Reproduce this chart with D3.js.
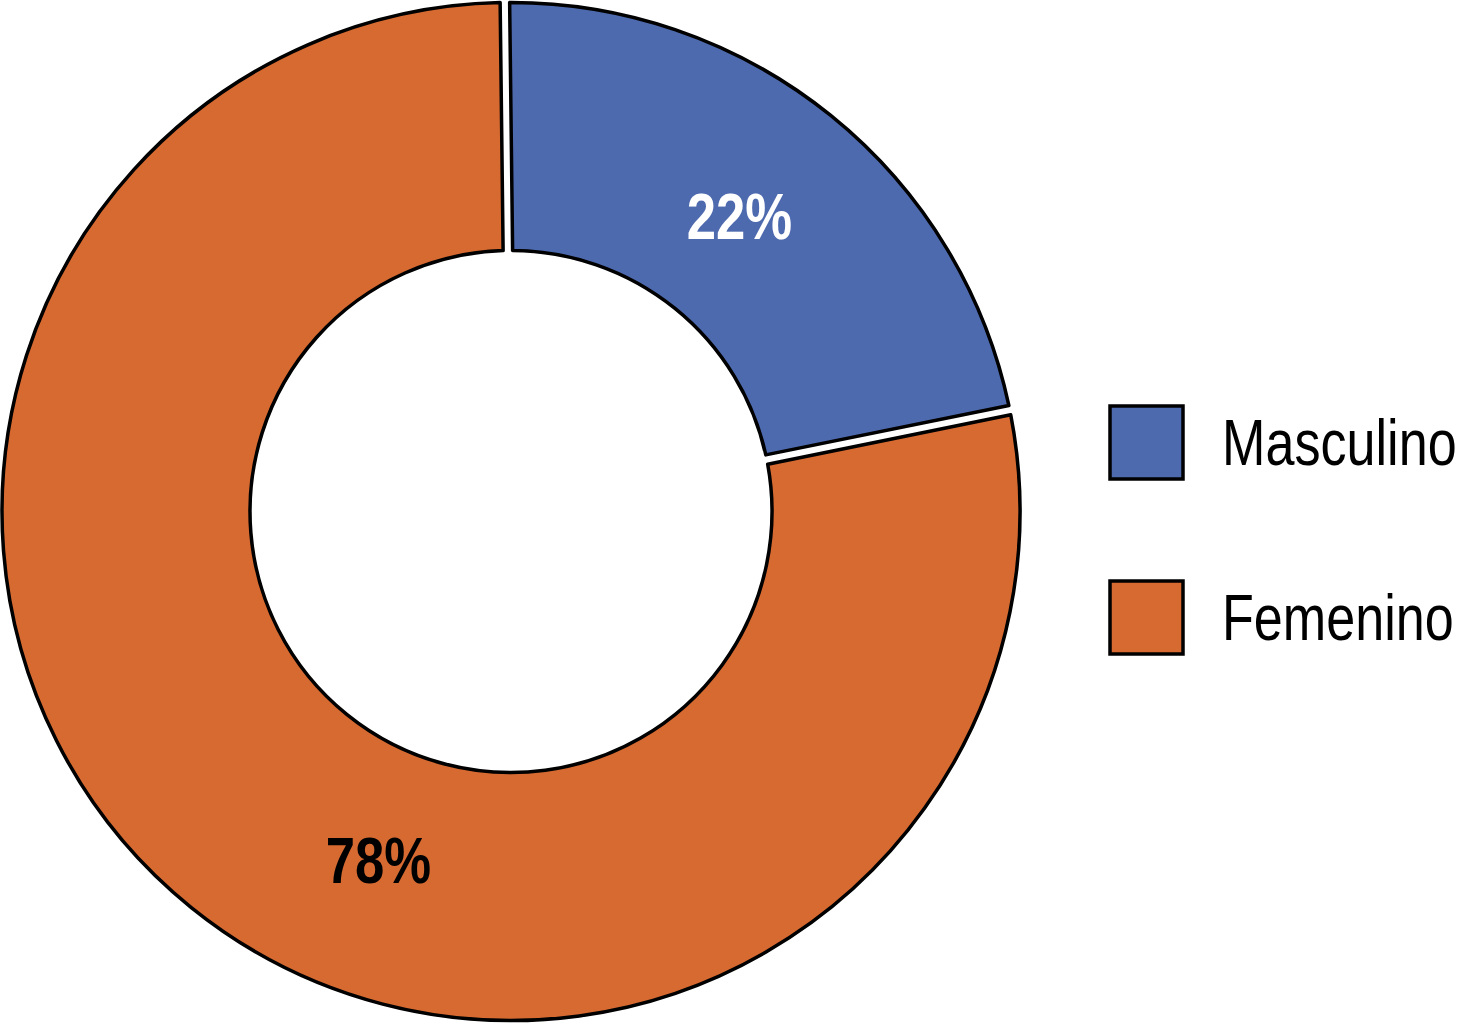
<!DOCTYPE html>
<html>
<head>
<meta charset="utf-8">
<script src="https://cdn.jsdelivr.net/npm/d3@7"></script>
<style>
  html, body { margin: 0; padding: 0; background: #ffffff; }
  svg { display: block; }
</style>
</head>
<body>
<script>
// ---- data ----
const categories = ["Masculino", "Femenino"];
const values = [22, 78];
const labels = ["22%", "78%"];
const colors = ["#4E6AAE", "#D66A31"];
const labelColors = ["#ffffff", "#000000"];

const W = 1466, H = 1024;
const cx = 511, cy = 511.5;
const outerR = 509, innerR = 261;
const FONT = "'Liberation Sans', Arial, sans-serif";
const SQUEEZE = 0.81;

const svg = d3.select("body").append("svg")
  .attr("width", W).attr("height", H);

const g = svg.append("g").attr("transform", `translate(${cx},${cy})`);

const rot = -0.012;
const pie = d3.pie().sort(null).value(d => d.v)
  .startAngle(rot).endAngle(rot + 2 * Math.PI);

const data = categories.map((c, i) => ({ c, v: values[i], i }));
const arcs = pie(data);

const arc = d3.arc()
  .innerRadius(innerR).outerRadius(outerR)
  .padAngle(0.019).padRadius(500);

g.selectAll("path.slice").data(arcs).enter().append("path")
  .attr("class", "slice")
  .attr("d", arc)
  .attr("fill", d => colors[d.data.i])
  .attr("stroke", "#000")
  .attr("stroke-width", 3.5)
  .attr("stroke-linejoin", "round");

// labels
const labelR = 373;
const labelAngleFor = d => d.data.i === 0 ? (d.startAngle + d.endAngle) / 2 - 0.02 : 3.505;
g.selectAll("g.lbl").data(arcs).enter().append("g")
  .attr("class", "lbl")
  .attr("transform", d => `translate(${labelR * Math.sin(labelAngleFor(d))},${-labelR * Math.cos(labelAngleFor(d))}) scale(${SQUEEZE},1)`)
  .append("text")
  .attr("dy", "0.35em")
  .attr("text-anchor", "middle")
  .attr("font-family", FONT)
  .attr("font-weight", "bold")
  .attr("font-size", 65)
  .attr("fill", d => labelColors[d.data.i])
  .text(d => labels[d.data.i]);

// legend
const legY = d3.scaleBand().domain(categories).range([406, 616]).paddingInner(0.8);
const leg = svg.append("g");
const items = leg.selectAll("g").data(categories).enter().append("g")
  .attr("transform", d => `translate(1110,${legY(d)})`);
items.append("rect")
  .attr("width", 73).attr("height", 73)
  .attr("fill", (d, i) => colors[i])
  .attr("stroke", "#000").attr("stroke-width", 3.5);
items.append("g")
  .attr("transform", `translate(112,36.5) scale(${SQUEEZE * 0.99},1)`)
  .append("text")
  .attr("dy", "0.35em")
  .attr("font-family", FONT)
  .attr("font-size", 65)
  .attr("fill", "#000")
  .text(d => d);
</script>
</body>
</html>
